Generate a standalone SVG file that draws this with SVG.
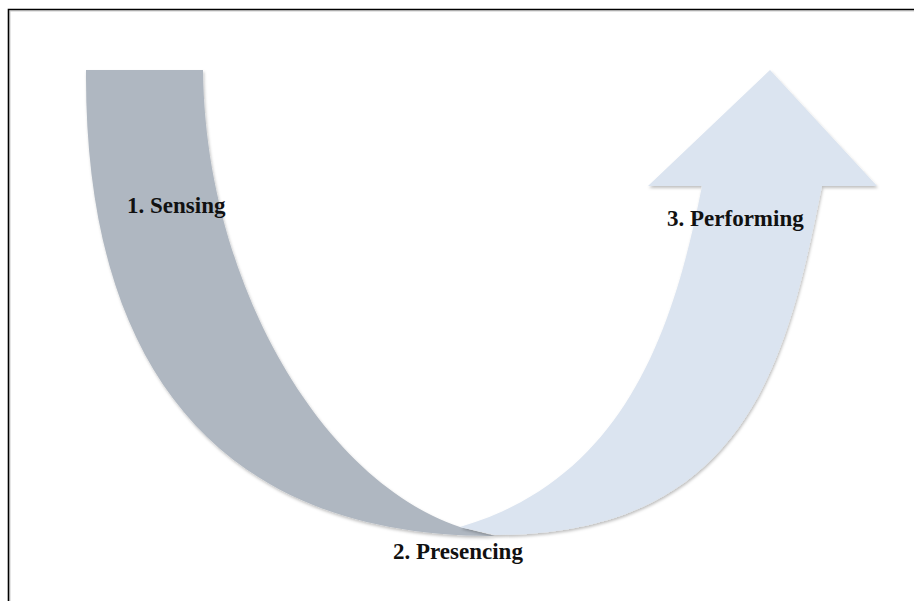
<svg xmlns="http://www.w3.org/2000/svg" width="914" height="601" viewBox="0 0 914 601">
<defs>
<filter id="sh" x="-10%" y="-10%" width="120%" height="120%">
<feDropShadow dx="1" dy="2" stdDeviation="1.5" flood-color="#000" flood-opacity="0.25"/>
</filter>
<style>
.lbl{font-family:"Liberation Serif","Times New Roman",serif;font-weight:bold;font-size:23px;fill:#111}
.frame{stroke:#000;stroke-width:1.6;fill:none}
</style>
</defs>
<rect width="914" height="601" fill="#fff"/>
<g id="frame">
<path d="M8.5,601 V9.5 H914" stroke="#ccc" stroke-width="1" fill="none" transform="translate(1.5,1.5)"/>
<path class="frame" d="M8.5,601 V9.5 H914"/>
</g>
<g id="connectors">
<g id="sensing-band">
<path filter="url(#sh)" fill="#AFB7C1" d="M86,70 H203 C205,280 320,480 460,527 L495,536 C230,537 84,380 86,70 Z"/>
</g>
<g id="performing-arrow">
<path filter="url(#sh)" fill="#DBE4F0" d="M460,527 C620,480 672,340 702,186 H648 L770,70 L877,186 H822 C789,348 753,535 495,535 Z"/>
</g>
</g>
<g id="node-sensing"><text class="lbl" x="127" y="213">1. Sensing</text></g>
<g id="node-presencing"><text class="lbl" x="393" y="559">2. Presencing</text></g>
<g id="node-performing"><text class="lbl" x="667" y="226">3. Performing</text></g>
</svg>
